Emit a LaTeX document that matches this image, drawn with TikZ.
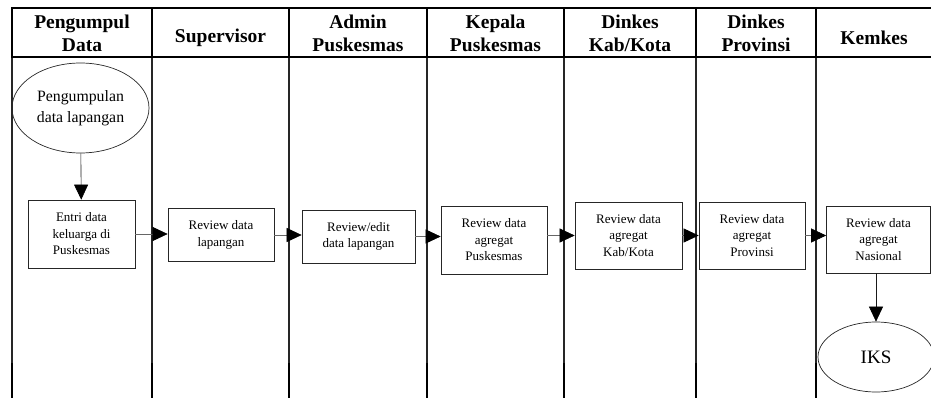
\documentclass[tikz,border=0pt]{standalone}
\usepackage{fontspec}
\setmainfont{Liberation Serif}
\usetikzlibrary{arrows.meta,shapes.geometric}

\begin{document}
\begin{tikzpicture}[x=1pt,y=-1pt,
  box/.style={draw=black!85,line width=0.7pt,align=center,inner sep=0pt,
    font=\fontsize{13}{16.5}\selectfont},
  oval/.style={draw=black!85,line width=0.7pt,ellipse,align=center,inner sep=0pt},
  head/.style={align=center,font=\fontsize{19.5}{23}\selectfont\bfseries},
  flow/.style={draw=black!60,line width=0.6pt,-{Triangle[length=15pt,width=14pt,color=black]}}]
  \useasboundingbox (0,0) rectangle (931,398);
  % lanes
  \foreach \x in {12,152,289,427,564,696,816} {
    \draw[black!85,line width=1.2pt] (\x,8) -- (\x,398);
    \draw[line width=1.8pt] (\x,8) -- (\x,57);
    \draw[line width=2.4pt] (\x,363) -- (\x,398);
  }
  \draw[line width=2pt] (11.1,8) -- (931,8);
  \draw[line width=2pt] (11.1,57) -- (931,57);
  % lane titles
  \node[head] (lane0) at (82,33) {Pengumpul\\Data};
  \node[head] (lane1) at (220.5,38) {Supervisor};
  \node[head] (lane2) at (358,33) {Admin\\Puskesmas};
  \node[head] (lane3) at (495.5,33) {Kepala\\Puskesmas};
  \node[head] (lane4) at (630,33) {Dinkes\\Kab/Kota};
  \node[head] (lane5) at (756,33) {Dinkes\\Provinsi};
  \node[head] (lane6) at (874,38) {Kemkes};
  % steps
  \node[oval,minimum width=137,minimum height=90,font=\fontsize{15.8}{21.5}\selectfont]
    (start) at (80.5,108) {Pengumpulan\\data lapangan};
  \node[box,minimum width=107,minimum height=68] (entri) at (81.5,234)
    {Entri data\\keluarga di\\Puskesmas};
  \node[box,minimum width=106,minimum height=53] (revlap) at (221,235)
    {Review data\\lapangan};
  \node[box,minimum width=113,minimum height=53] (revedit) at (358.5,236.5)
    {Review/edit\\data lapangan};
  \node[box,minimum width=106,minimum height=68] (revpus) at (494,240)
    {Review data\\agregat\\Puskesmas};
  \node[box,minimum width=107,minimum height=67] (revkab) at (628.5,235.5)
    {Review data\\agregat\\Kab/Kota};
  \node[box,minimum width=106,minimum height=67] (revprov) at (752,235.5)
    {Review data\\agregat\\Provinsi};
  \node[box,minimum width=104,minimum height=67] (revnas) at (878.5,239.5)
    {Review data\\agregat\\Nasional};
  \node[oval,minimum width=116,minimum height=70,font=\fontsize{19}{22}\selectfont]
    (iks) at (876,357) {IKS};
  % connectors
  \draw[flow,draw=black!90] (start) -- (entri);
  \draw[flow] (entri.east) -- (entri.east -| revlap.west);
  \draw[flow] (revlap.east) -- (revlap.east -| revedit.west);
  \draw[flow] (revedit.east) -- (revedit.east -| revpus.west);
  \draw[flow] (revpus.east |- revkab.east) -- (revkab.west);
  \draw[flow] (revkab.east) -- (revprov.west);
  \draw[flow] (revprov.east) -- (revprov.east -| revnas.west);
  \draw[flow,draw=black!90] (revnas.south -| iks.north) -- (iks.north);
\end{tikzpicture}
\end{document}
